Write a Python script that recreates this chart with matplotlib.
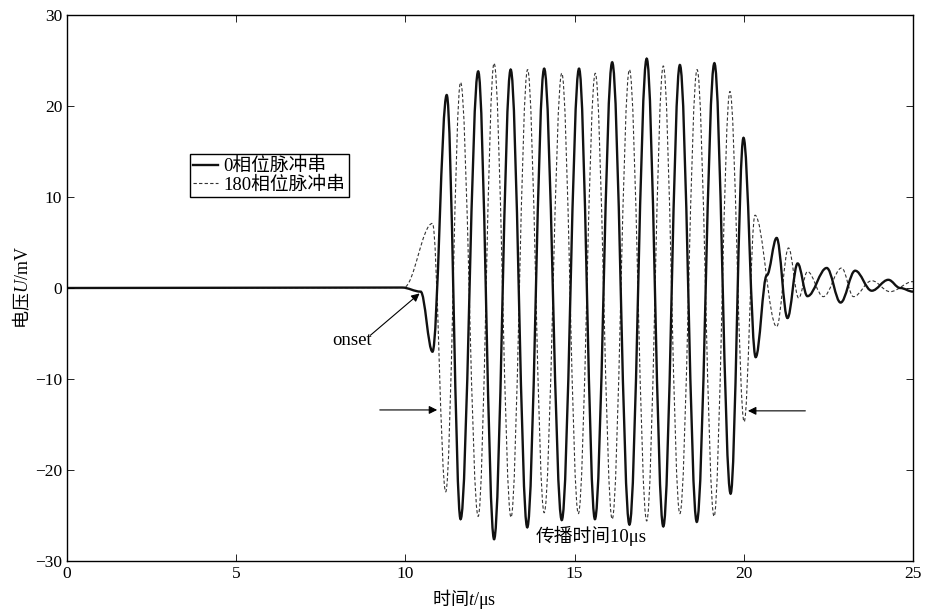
import matplotlib
matplotlib.use('Agg')
from matplotlib import pyplot as plt
from matplotlib.path import Path
from matplotlib.patches import PathPatch

plt.rcParams['font.family'] = ['Liberation Serif', 'Noto Sans CJK SC']
plt.rcParams['mathtext.fontset'] = 'custom'
plt.rcParams['mathtext.rm'] = 'Noto Sans CJK SC'
plt.rcParams['mathtext.it'] = 'Liberation Serif:italic'
plt.rcParams['mathtext.sf'] = 'Liberation Serif'

# extrema of the 0-phase burst (time in us, voltage in mV)
t_0 = [0, 9.9, 10.45, 10.80, 11.22, 11.63, 12.15, 12.62, 13.11, 13.60, 14.10, 14.62,
       15.13, 15.60, 16.11, 16.62, 17.13, 17.62, 18.11, 18.61, 19.13, 19.61, 19.99,
       20.35, 20.68, 20.97, 21.29, 21.59, 21.88, 22.45, 22.86, 23.29, 23.78, 24.27,
       24.62, 25.0]
u_0 = [0, 0.05, -0.4, -7.0, 21.2, -25.4, 23.8, -27.6, 24.0, -26.3, 24.1, -25.5,
       24.1, -25.4, 24.8, -26.0, 25.2, -26.2, 24.5, -25.7, 24.7, -22.6, 16.5,
       -7.6, 1.4, 5.5, -3.3, 2.7, -0.9, 2.2, -1.6, 1.9, -0.3, 0.9,
       0.0, -0.4]

# extrema of the 180-phase burst
t_180 = [0, 9.95, 10.80, 11.19, 11.63, 12.15, 12.62, 13.12, 13.61, 14.10, 14.62,
         15.11, 15.61, 16.11, 16.62, 17.13, 17.62, 18.11, 18.62, 19.12, 19.59,
         20.01, 20.33, 20.97, 21.32, 21.62, 21.88, 22.35, 22.89, 23.24, 23.78,
         24.32, 25.0]
u_180 = [0, 0.05, 7.1, -22.4, 22.6, -25.1, 24.7, -25.2, 24.0, -24.7, 23.6,
         -24.8, 23.6, -25.4, 24.0, -25.6, 24.4, -24.8, 24.0, -25.1, 21.6,
         -14.7, 8.0, -4.25, 4.4, -1.1, 1.8, -0.95, 2.2, -0.95, 0.8,
         -0.4, 0.7]


def smooth_path(ts, vs):
    # cubic segments with flat tangents at every extremum
    verts = [(ts[0], vs[0])]
    codes = [Path.MOVETO]
    k = 0.364
    for i in range(len(ts) - 1):
        dt = ts[i + 1] - ts[i]
        verts += [(ts[i] + k * dt, vs[i]), (ts[i + 1] - k * dt, vs[i + 1]), (ts[i + 1], vs[i + 1])]
        codes += [Path.CURVE4] * 3
    return Path(verts, codes)


fig = plt.figure(figsize=(9.35, 6.14), dpi=100)
ax = fig.add_axes([0.0717, 0.0863, 0.9048, 0.8893])

ax.add_patch(PathPatch(smooth_path(t_180, u_180), fill=False, color='#333333',
                       lw=0.8, linestyle=(0, (3, 2))))
ax.add_patch(PathPatch(smooth_path(t_0, u_0), fill=False, color='#111111', lw=1.7))

# legend handles
ax.plot([], [], color='#111111', lw=1.7, label='0相位脉冲串')
ax.plot([], [], color='#333333', lw=0.8, linestyle=(0, (3, 2)), label='180相位脉冲串')
leg = ax.legend(loc='upper left', bbox_to_anchor=(0.145, 0.745), fontsize=13.5,
                handlelength=1.3, handletextpad=0.3, borderpad=0.2, labelspacing=0.05,
                fancybox=False, framealpha=1, edgecolor='black', borderaxespad=0)
leg.get_frame().set_linewidth(1.0)

ax.set_xlim(0, 25)
ax.set_ylim(-30, 30)
ax.set_xticks(range(0, 26, 5))
ax.set_yticks(range(-30, 31, 10))
ax.tick_params(direction='in', top=True, right=True, length=5, width=0.6, labelsize=12.5)
for s in ax.spines.values():
    s.set_linewidth(1.0)

ax.set_xlabel(r'$\mathrm{时间}t\mathsf{/μs}$', fontsize=13)
ax.xaxis.set_label_coords(0.469, -0.048)
ax.set_ylabel(r'$\mathrm{电压}U\mathsf{/mV}$', fontsize=13, labelpad=2)

arrow = dict(arrowstyle='-|>', color='black', lw=0.8, mutation_scale=12)
ax.annotate('', xy=(10.48, -0.4), xytext=(8.9, -5.4), arrowprops=arrow)
ax.text(8.43, -5.8, 'onset', fontsize=13.5, ha='center', va='center')
ax.annotate('', xy=(11.02, -13.4), xytext=(9.16, -13.4), arrowprops=arrow)
ax.annotate('', xy=(20.04, -13.5), xytext=(21.9, -13.5), arrowprops=arrow)
ax.text(15.5, -27.3, '传播时间10μs', fontsize=13.5, ha='center', va='center')

fig.savefig('out.png', dpi=100)
